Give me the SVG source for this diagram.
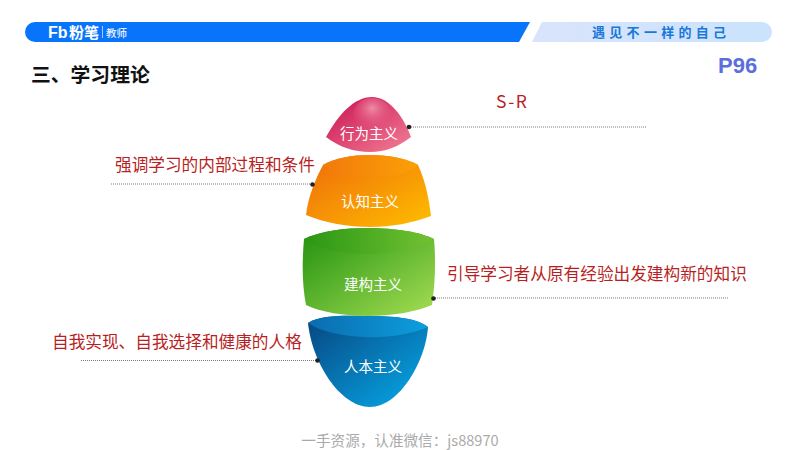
<svg xmlns="http://www.w3.org/2000/svg" width="800" height="450" viewBox="0 0 800 450">
<style>
text{font-family:"Liberation Sans","Noto Sans CJK SC",sans-serif}
.cjk{font-family:"Noto Sans CJK SC","Noto Sans",sans-serif}
.lab{font-size:14.5px;fill:#fff;text-anchor:middle;font-family:"Noto Sans CJK SC",sans-serif;font-weight:400}
.note{font-size:16.67px;fill:#b81f24;font-family:"Noto Sans CJK SC",sans-serif;font-weight:400}
.lead{fill:none;stroke:#555;stroke-width:.8;stroke-dasharray:1 1}
.dot{fill:#222}
</style>
<defs>
<linearGradient id="pink" x1="0" y1="0" x2="1" y2="1"><stop offset="0" stop-color="#c8104f"/><stop offset="1" stop-color="#f37f97"/></linearGradient>
<linearGradient id="orange" x1="0" y1="0" x2="1" y2="1"><stop offset="0" stop-color="#ee6a0a"/><stop offset="1" stop-color="#ffbe00"/></linearGradient>
<linearGradient id="green" x1="0" y1="0" x2="1" y2="1"><stop offset="0" stop-color="#1f900e"/><stop offset="1" stop-color="#a6de54"/></linearGradient>
<linearGradient id="blue" x1="0" y1="0" x2="1" y2="1"><stop offset="0" stop-color="#07457f"/><stop offset="1" stop-color="#06acec"/></linearGradient>
<linearGradient id="capO" x1="0" y1="0" x2="1" y2="0"><stop offset="0" stop-color="#f27a0c"/><stop offset="1" stop-color="#fca006"/></linearGradient>
<linearGradient id="capG" x1="0" y1="0" x2="1" y2="0"><stop offset="0" stop-color="#2a9614"/><stop offset="1" stop-color="#72c232"/></linearGradient>
<linearGradient id="capB" x1="0" y1="0" x2="1" y2="0"><stop offset="0" stop-color="#0a6cae"/><stop offset="1" stop-color="#0d9ede"/></linearGradient>
<linearGradient id="bandR" x1="0" y1="0" x2="1" y2="0"><stop offset="0" stop-color="#d9e4fb"/><stop offset="1" stop-color="#cbe3fd"/></linearGradient>
<radialGradient id="shine" cx=".5" cy=".3" r=".7"><stop offset="0" stop-color="#f6b0c0" stop-opacity=".7"/><stop offset="1" stop-color="#e23a6c" stop-opacity="0"/></radialGradient>
</defs>
<rect width="800" height="450" fill="#fff"/>
<g id="header">
<path d="M35 22H530L519 42H35A10 10 0 0 1 35 22Z" fill="#0874fb"/>
<path d="M542 22H762A10 10 0 0 1 762 42H532Z" fill="url(#bandR)"/>
<text x="48" y="37.500" font-size="16" font-weight="700" fill="#fff">Fb</text>
<text x="69" y="37.500" font-size="15" font-weight="700" fill="#fff" class="cjk">粉笔</text>
<rect x="102" y="26" width=".8" height="12" fill="#cfe2ff"/>
<text x="106" y="37" font-size="10.500" font-weight="500" fill="#e6f0ff" class="cjk">教师</text>
<text x="592" y="37" font-size="13" font-weight="700" fill="#1a78d8" letter-spacing="4.300" class="cjk">遇见不一样的自己</text>
</g>
<text x="31" y="82" font-size="19.800" font-weight="700" fill="#111" class="cjk">三、学习理论</text>
<text x="718" y="73" font-size="22" font-weight="700" fill="#5a6fdc">P96</text>
<g id="node-renben">
<path d="M308 323C322 314 350 316 368 316C392 316 418 318 428 327C426 360 400 407 370 407C340 407 312 362 308 323Z" fill="url(#blue)"/>
<path d="M308 323C322 314 350 316 368 316C392 316 418 318 428 327C410 335 385 338 365 337C340 336 320 331 308 323Z" fill="url(#capB)"/>
<text class="lab" x="373" y="372">人本主义</text>
</g>
<g id="node-jiangou">
<path d="M304 239C320 231 345 228 368 228C395 228 420 232 434 239C436 262 435 285 432 305C415 312 392 316 368 316C345 316 320 312 306 305C302 285 302 262 304 239Z" fill="url(#green)"/>
<path d="M304 239C320 231 345 228 368 228C395 228 420 232 434 239C418 249 392 254 368 254C345 254 318 249 304 239Z" fill="url(#capG)"/>
<text class="lab" x="373" y="290">建构主义</text>
</g>
<g id="node-renzhi">
<path d="M323 165C335 158 352 155 370 155C390 155 408 159 418 165C426 182 429 200 431 216C412 223 392 227 370 227C348 227 325 223 306 215C308 197 315 180 323 165Z" fill="url(#orange)"/>
<path d="M323 165C335 158 352 155 370 155C390 155 408 159 418 165C410 174 390 178 370 178C350 178 332 174 323 165Z" fill="url(#capO)"/>
<text class="lab" x="370" y="207">认知主义</text>
</g>
<g id="node-xingwei">
<path d="M326 137C338 115 354 97 372 97C390 97 404 118 411 137C398 147 385 152 370 152C354 152 339 147 326 137Z" fill="url(#pink)"/>
<ellipse cx="372" cy="115" rx="19" ry="17" fill="url(#shine)"/>
<text class="lab" x="369" y="139">行为主义</text>
</g>
<g id="connectors">
<path class="lead" d="M409 127H647"/><circle class="dot" cx="409" cy="127" r="2.300"/>
<path class="lead" d="M111 184H312"/><circle class="dot" cx="312.500" cy="184.500" r="2.300"/>
<path class="lead" d="M433 298H728"/><circle class="dot" cx="433.500" cy="298.500" r="2.300"/>
<path class="lead" d="M81 360.500H317"/><circle class="dot" cx="317.500" cy="360.500" r="2.300"/>
</g>
<text x="496" y="108" font-size="17.500" fill="#b81f24" letter-spacing="1.500" class="cjk">S-R</text>
<text class="note" x="115" y="171">强调学习的内部过程和条件</text>
<text class="note" x="447" y="280">引导学习者从原有经验出发建构新的知识</text>
<text class="note" x="52" y="348">自我实现、自我选择和健康的人格</text>
<text x="400" y="446" font-size="14.600" fill="#aaa" text-anchor="middle" class="cjk">一手资源，认准微信：js88970</text>
</svg>
